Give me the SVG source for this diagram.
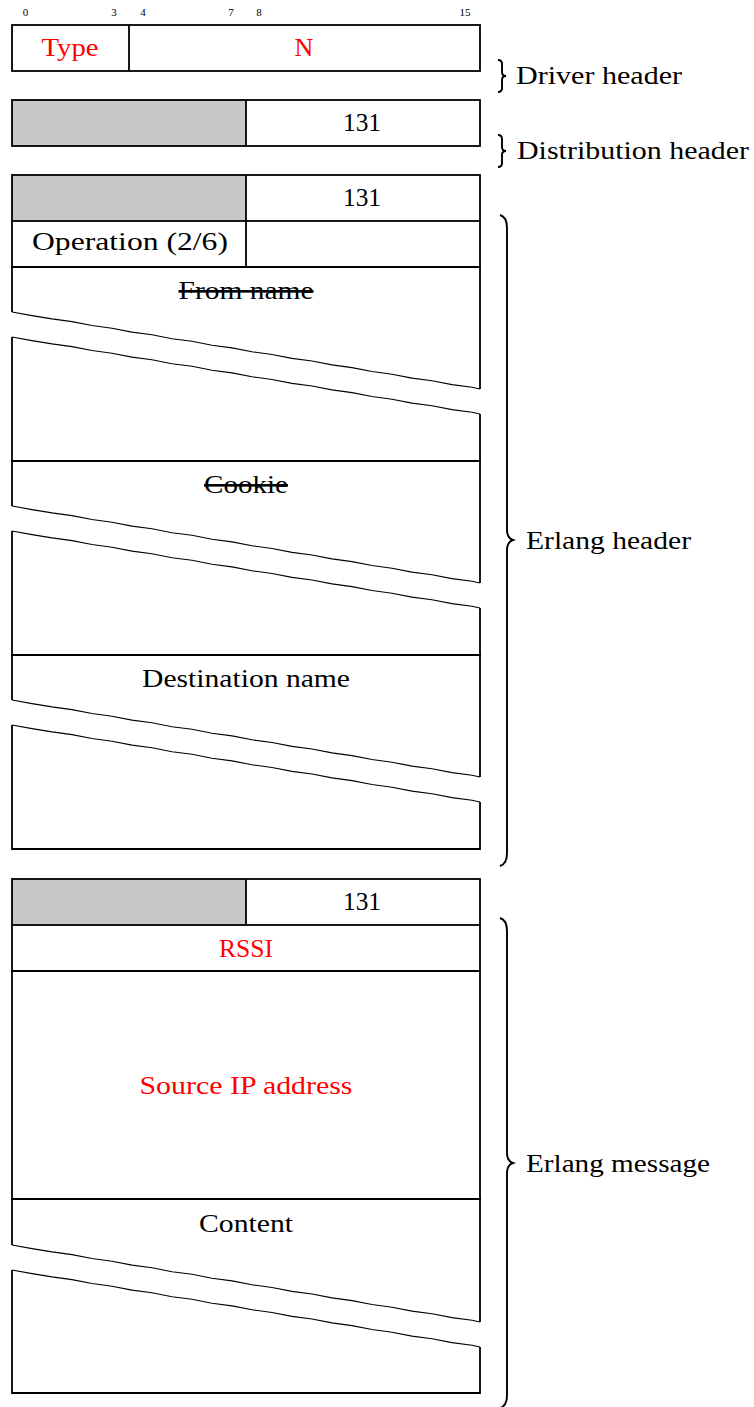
<svg xmlns="http://www.w3.org/2000/svg" xmlns:xlink="http://www.w3.org/1999/xlink" width="754" height="1407" viewBox="0 0 754 1407">
<style>
  .box{fill:none;stroke:#000;stroke-width:1.8}
  .gray{fill:#c8c8c8;stroke:none}
  .brk{fill:none;stroke:#000;stroke-width:1.1}
  .t{font-family:"Liberation Serif","DejaVu Serif",serif;font-size:26px;fill:#000;text-anchor:middle}
  .red{fill:#ff0000}
  .bit{font-family:"Liberation Serif","DejaVu Serif",serif;font-size:11px;fill:#000;text-anchor:middle}
  .lbl{font-family:"Liberation Serif","DejaVu Serif",serif;font-size:26px;fill:#000}
  .brace{fill:none;stroke:#000;stroke-width:1.9}
  .strike{text-decoration:line-through}
</style>
<defs>
  <path id="brkline" class="brk" d="M0,0 L20,3.6 L40,6.9 L60,9.6 L80,13.5 L100,16.2 L120,20.1 L140,22.8 L160,26.7 L180,29.3 L200,33.3 L220,35.9 L240,39.8 L260,42.5 L280,46.4 L300,49.0 L320,52.9 L340,55.6 L360,59.5 L380,62.2 L400,66.1 L420,68.7 L440,72.6 L460,75.3 L468,77"/>
</defs>
<rect x="0" y="0" width="754" height="1407" fill="#fff"/>

<g id="bits">
  <text class="bit" x="25.5" y="16">0</text>
  <text class="bit" x="114" y="16">3</text>
  <text class="bit" x="143" y="16">4</text>
  <text class="bit" x="231" y="16">7</text>
  <text class="bit" x="259" y="16">8</text>
  <text class="bit" x="465" y="16">15</text>
</g>

<g id="driver-header">
  <rect class="box" x="12" y="25" width="468" height="46"/>
  <line class="box" x1="129" y1="25" x2="129" y2="71"/>
  <text class="t red" x="70" y="56" textLength="57" lengthAdjust="spacingAndGlyphs">Type</text>
  <text class="t red" x="304" y="56">N</text>
</g>

<g id="distribution-header">
  <rect class="gray" x="12" y="100" width="234" height="46"/>
  <rect class="box" x="12" y="100" width="468" height="46"/>
  <line class="box" x1="246" y1="100" x2="246" y2="146"/>
  <text class="t" x="362" y="131" textLength="38" lengthAdjust="spacingAndGlyphs">131</text>
</g>

<g id="erlang-header-version">
  <rect class="gray" x="12" y="175" width="234" height="46"/>
  <rect class="box" x="12" y="175" width="468" height="46"/>
  <line class="box" x1="246" y1="175" x2="246" y2="221"/>
  <text class="t" x="362" y="206" textLength="38" lengthAdjust="spacingAndGlyphs">131</text>
</g>

<g id="operation">
  <path class="box" d="M12,221 V267 H480 V221"/>
  <line class="box" x1="246" y1="221" x2="246" y2="267"/>
  <text class="t" x="130" y="250" textLength="196" lengthAdjust="spacingAndGlyphs">Operation (2/6)</text>
</g>

<g id="from-name">
  <path class="box" d="M12,312 V267 H480 V389"/>
  <use xlink:href="#brkline" x="12" y="312"/>
  <use xlink:href="#brkline" x="12" y="337"/>
  <path class="box" d="M12,337 V461 H480 V414"/>
  <text class="t strike" x="246" y="299" textLength="135" lengthAdjust="spacingAndGlyphs">From name</text>
</g>

<g id="cookie">
  <path class="box" d="M12,506 V461 H480 V583"/>
  <use xlink:href="#brkline" x="12" y="506"/>
  <use xlink:href="#brkline" x="12" y="531"/>
  <path class="box" d="M12,531 V655 H480 V608"/>
  <text class="t strike" x="246" y="493" textLength="84" lengthAdjust="spacingAndGlyphs">Cookie</text>
</g>

<g id="destination-name">
  <path class="box" d="M12,700 V655 H480 V777"/>
  <use xlink:href="#brkline" x="12" y="700"/>
  <use xlink:href="#brkline" x="12" y="725"/>
  <path class="box" d="M12,725 V849 H480 V802"/>
  <text class="t" x="246" y="687" textLength="208" lengthAdjust="spacingAndGlyphs">Destination name</text>
</g>

<g id="erlang-message-version">
  <rect class="gray" x="12" y="879" width="234" height="46"/>
  <rect class="box" x="12" y="879" width="468" height="46"/>
  <line class="box" x1="246" y1="879" x2="246" y2="925"/>
  <text class="t" x="362" y="910" textLength="38" lengthAdjust="spacingAndGlyphs">131</text>
</g>

<g id="rssi">
  <path class="box" d="M12,925 V971 H480 V925"/>
  <text class="t red" x="246" y="957" textLength="54" lengthAdjust="spacingAndGlyphs">RSSI</text>
</g>

<g id="source-ip">
  <path class="box" d="M12,971 V1199 H480 V971"/>
  <text class="t red" x="246" y="1094" textLength="213" lengthAdjust="spacingAndGlyphs">Source IP address</text>
</g>

<g id="content">
  <path class="box" d="M12,1245 V1199 H480 V1322"/>
  <use xlink:href="#brkline" x="12" y="1245"/>
  <use xlink:href="#brkline" x="12" y="1270"/>
  <path class="box" d="M12,1270 V1393 H480 V1347"/>
  <text class="t" x="246" y="1232" textLength="94" lengthAdjust="spacingAndGlyphs">Content</text>
</g>

<g id="connectors">
  <path class="brace" d="M498,60 Q502,60 502,64 L502,72 Q502,76 506,76 Q502,76 502,80 L502,88 Q502,92 498,92"/>
  <path class="brace" d="M498,135 Q502,135 502,139 L502,147 Q502,151 506,151 Q502,151 502,155 L502,163 Q502,167 498,167"/>
  <path class="brace" d="M500,215 Q507,217 507,228 L507,530 Q507,538 513,540 Q507,542 507,550 L507,853 Q507,864 500,866"/>
  <path class="brace" d="M500,918 Q507,920 507,931 L507,1153 Q507,1161 513,1163 Q507,1165 507,1173 L507,1395 Q507,1406 500,1408"/>
</g>

<g id="labels">
  <text class="lbl" x="516" y="84" textLength="166" lengthAdjust="spacingAndGlyphs">Driver header</text>
  <text class="lbl" x="517" y="159" textLength="232" lengthAdjust="spacingAndGlyphs">Distribution header</text>
  <text class="lbl" x="526" y="549" textLength="165" lengthAdjust="spacingAndGlyphs">Erlang header</text>
  <text class="lbl" x="526" y="1172" textLength="184" lengthAdjust="spacingAndGlyphs">Erlang message</text>
</g>
</svg>
